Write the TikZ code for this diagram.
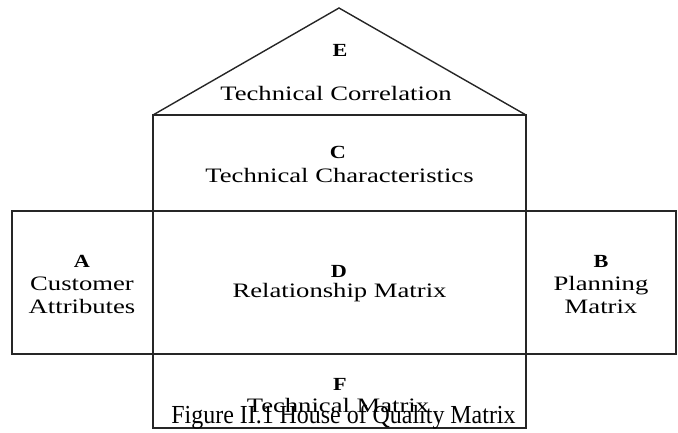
\documentclass[tikz,border=0pt]{standalone}
\usepackage{fontspec}
\setmainfont{Liberation Serif}
\newcommand\hwide[1]{\scalebox{1.3}[1]{#1}}
\newcommand\hbold[1]{\scalebox{1.2}[1]{#1}}
\newcommand\hcap[1]{\scalebox{0.92}[1]{#1}}
\tikzset{
  lbl/.style={anchor=base, inner sep=0pt, font=\fontsize{20.5}{24}\selectfont},
  tag/.style={anchor=base, inner sep=0pt, font=\fontsize{18.5}{22}\selectfont\bfseries},
  figcap/.style={anchor=base, inner sep=0pt, font=\fontsize{26}{30}\selectfont},
  frame/.style={line width=1.4pt, draw=black!85, line join=miter}
}
\begin{document}
\begin{tikzpicture}[x=1pt,y=-1pt]
\useasboundingbox (0,0) rectangle (678,432);
% coordinates
\coordinate (apex) at (339,8);
\coordinate (rl) at (153,115);
\coordinate (rr) at (526,115);
\coordinate (bl) at (153,428);
\coordinate (br) at (526,428);
\coordinate (l1) at (12,211);
\coordinate (r1) at (676,211);
\coordinate (l2) at (12,354);
\coordinate (r2) at (676,354);
% shapes
\draw[frame] (rl) -- (apex) -- (rr);
\draw[frame] (rl) rectangle (br);
\draw[frame] (l1) rectangle (r2);
% texts
\node[tag] (E) at (340,56) {\hbold{E}};
\node[lbl] (Et) at (336,100) {\hwide{Technical Correlation}};
\node[tag] (C) at (338,158) {\hbold{C}};
\node[lbl] (Ct) at (339.5,182) {\hwide{Technical Characteristics}};
\node[tag] (D) at (339,277) {\hbold{D}};
\node[lbl] (Dt) at (339.5,297) {\hwide{Relationship Matrix}};
\node[tag] (A) at (82,267) {\hbold{A}};
\node[lbl] (At1) at (82,290) {\hwide{Customer}};
\node[lbl] (At2) at (82,313) {\hwide{Attributes}};
\node[tag] (B) at (601,267) {\hbold{B}};
\node[lbl] (Bt1) at (601,290) {\hwide{Planning}};
\node[lbl] (Bt2) at (601,313) {\hwide{Matrix}};
\node[tag] (F) at (340,390) {\hbold{F}};
\node[lbl] (Ft) at (338,412) {\hwide{Technical Matrix}};
\node[figcap] (cap) at (343.5,423) {\hcap{Figure II.1 House of Quality Matrix}};
\end{tikzpicture}
\end{document}
